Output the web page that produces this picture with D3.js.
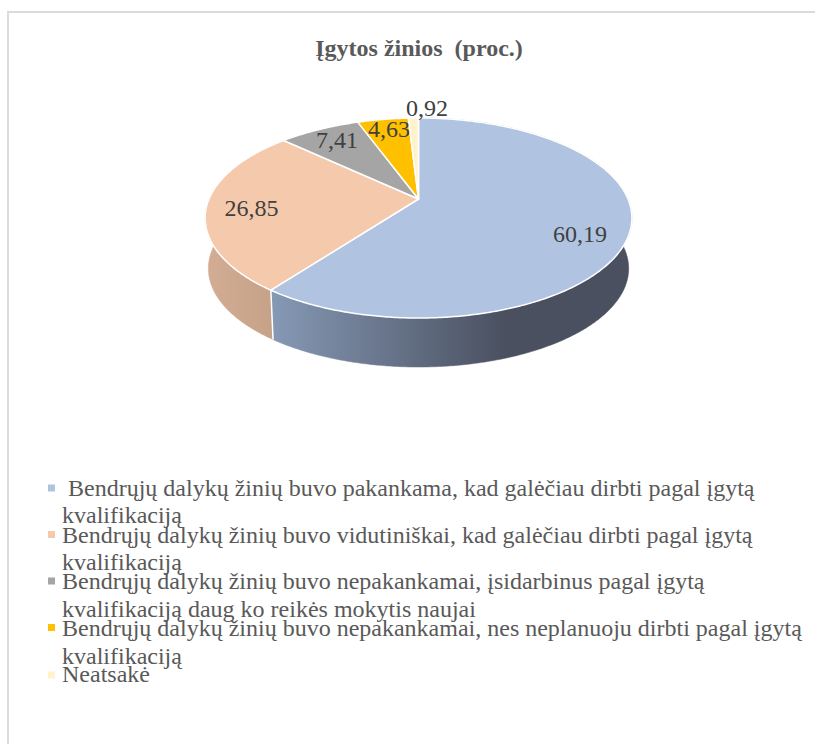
<!DOCTYPE html>
<html lang="lt">
<head>
<meta charset="utf-8">
<script src="https://cdn.jsdelivr.net/npm/d3@7/dist/d3.min.js"></script>
<style>
html,body{margin:0;padding:0;background:#fff;}
svg{display:block;}
text{font-family:"Liberation Serif",serif;white-space:pre;}
</style>
</head>
<body>
<svg id="chart" width="815" height="744"></svg>
<script>
const titleText = "Įgytos žinios  (proc.)";
const categories = [
  " Bendrųjų dalykų žinių buvo pakankama, kad galėčiau dirbti pagal įgytą|kvalifikaciją",
  "Bendrųjų dalykų žinių buvo vidutiniškai, kad galėčiau dirbti pagal įgytą|kvalifikaciją",
  "Bendrųjų dalykų žinių buvo nepakankamai, įsidarbinus pagal įgytą|kvalifikaciją daug ko reikės mokytis naujai",
  "Bendrųjų dalykų žinių buvo nepakankamai, nes neplanuoju dirbti pagal įgytą|kvalifikaciją",
  "Neatsakė"
];
const values = [60.19, 26.85, 7.41, 4.63, 0.92];
const valueLabels = ["60,19", "26,85", "7,41", "4,63", "0,92"];
const colors = ["#B0C4E2", "#F5C9AB", "#A5A5A5", "#FFC000", "#FFF2CC"];

// layout (not data)
const apex = {x: 418.5, y: 199};
const persp = 0.19, scaleX = 209.5, scaleY = 96.4;
const rimMidY = 218, wallMidY = 268.5, wallScale = 0.985;
const labelPos = [[580, 242], [251.5, 216], [337, 148], [389, 137], [427, 116]];
const legendBaselines = [[496, 523], [543, 570], [589, 617], [636, 664], [682]];
const legendMarkerY = [488, 534.5, 581, 627.5, 675];

const svg = d3.select("#chart");

// Chart frame
svg.append("rect")
  .attr("x", 8).attr("y", 12).attr("width", 830).attr("height", 760)
  .attr("fill", "#fff").attr("stroke", "#DBDBDB").attr("stroke-width", 2);

svg.append("text")
  .attr("x", 419).attr("y", 56).attr("text-anchor", "middle")
  .attr("font-size", 24).attr("font-weight", "bold").attr("fill", "#595959")
  .text(titleText);

// Perspective projection of the pie's disc
function rim(theta) {
  const u = Math.sin(theta), v = -Math.cos(theta), w = 1 - persp * v;
  return [apex.x + scaleX * u / w, apex.y + scaleY * v / w];
}
function bottomRim(theta) {
  const p = rim(theta);
  return [apex.x + (p[0] - apex.x) * wallScale, wallMidY + (p[1] - rimMidY) * wallScale];
}
const arcs = d3.pie().sort(null).startAngle(0).endAngle(2 * Math.PI)(values);
const samples = a => {
  const n = Math.max(2, Math.ceil((a.endAngle - a.startAngle) / 0.01));
  return d3.range(n + 1).map(i => a.startAngle + (a.endAngle - a.startAngle) * i / n);
};
const line = d3.line();

const defs = svg.append("defs");
const wallGrads = [
  {id: "wall0", x1: 274, x2: 505, stops: ["#8598B4", "#4A5060"]},
  {id: "wall1", x1: 208, x2: 275, stops: ["#D2AD93", "#C5A188"]}
];
wallGrads.forEach(g => {
  const lg = defs.append("linearGradient").attr("id", g.id)
    .attr("gradientUnits", "userSpaceOnUse")
    .attr("x1", g.x1).attr("x2", g.x2).attr("y1", 0).attr("y2", 0);
  g.stops.forEach((c, i) => lg.append("stop").attr("offset", i).attr("stop-color", c));
});

// Side wall
svg.append("g").selectAll("path").data(arcs).join("path")
  .attr("d", a => {
    const t = samples(a);
    return line(t.map(rim).concat(t.slice().reverse().map(bottomRim))) + "Z";
  })
  .attr("fill", (a, i) => i < 2 ? `url(#wall${i})` : colors[i])
  .attr("stroke", (a, i) => i < 2 ? `url(#wall${i})` : "none")
  .attr("stroke-width", 0.5);

// White seam between the two visible walls
const seam = arcs[0].endAngle;
svg.append("path")
  .attr("d", line([rim(seam), bottomRim(seam)]))
  .attr("stroke", "#fff").attr("stroke-width", 1.5).attr("fill", "none");

// Top face
svg.append("g").selectAll("path").data(arcs).join("path")
  .attr("d", a => line([[apex.x, apex.y]].concat(samples(a).map(rim))) + "Z")
  .attr("fill", (a, i) => colors[i])
  .attr("stroke", "#fff").attr("stroke-width", 1.5).attr("stroke-linejoin", "round");

// Value labels
svg.append("g").selectAll("text").data(valueLabels).join("text")
  .attr("x", (d, i) => labelPos[i][0]).attr("y", (d, i) => labelPos[i][1])
  .attr("text-anchor", "middle").attr("font-size", 24).attr("fill", "#404040")
  .text(d => d);

// Legend
const legend = svg.append("g").selectAll("g").data(categories).join("g");
legend.append("rect")
  .attr("x", 48).attr("width", 7).attr("height", 7)
  .attr("y", (d, i) => legendMarkerY[i] - 3.5)
  .attr("fill", (d, i) => colors[i]);
legend.each(function (d, i) {
  d3.select(this).selectAll("text").data(d.split("|")).join("text")
    .attr("x", 62).attr("y", (s, j) => legendBaselines[i][j])
    .attr("font-size", 24).attr("fill", "#595959")
    .text(s => s);
});
</script>
</body>
</html>
